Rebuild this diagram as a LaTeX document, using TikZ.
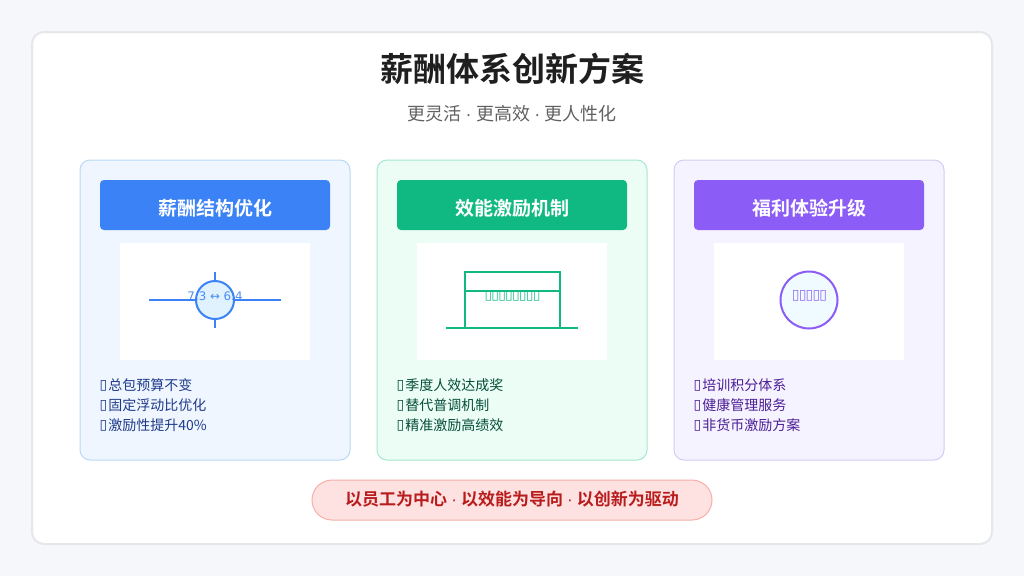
\documentclass[tikz,border=0pt]{standalone}
\usepackage{fontspec}
\setmainfont{DejaVu Sans}
\newfontfamily\cjk{Noto Sans CJK SC}
\newfontfamily\cjkb{Noto Sans CJK SC Bold}
\newfontfamily\djv{DejaVu Sans}
\newfontfamily\lib{Liberation Sans}
\definecolor{pagebg}{HTML}{F5F7FB}
\definecolor{framec}{HTML}{E5E7EB}
\definecolor{blueA}{HTML}{3B82F6}
\definecolor{blueB}{HTML}{EFF6FF}
\definecolor{blueC}{HTML}{B9D9F5}
\definecolor{blueT}{HTML}{1E3A8A}
\definecolor{blueF}{HTML}{E0F2FE}
\definecolor{greenA}{HTML}{10B981}
\definecolor{greenB}{HTML}{ECFDF5}
\definecolor{greenC}{HTML}{A5E8D0}
\definecolor{greenT}{HTML}{064E3B}
\definecolor{purA}{HTML}{8B5CF6}
\definecolor{purB}{HTML}{F5F3FF}
\definecolor{purC}{HTML}{D2CDF2}
\definecolor{purT}{HTML}{4C1D95}
\definecolor{purF}{HTML}{EFFBFF}
\definecolor{redF}{HTML}{FEE2E2}
\definecolor{redC}{HTML}{F5AFA8}
\definecolor{redT}{HTML}{B91C1C}
\newcommand{\tofu}{\raisebox{1pt}{\djv\char"25AF}}
\newcommand{\tofup}{\makebox[6.9pt]{\fontsize{14}{14}\selectfont\djv\char"25AF}}
\newcommand{\middot}{\hspace{.24em}{\lib ·}\hspace{.24em}}
\tikzset{
  x=1pt,y=-1pt,
  cardbox/.style={rounded corners=10pt,line width=1pt},
  headbox/.style={rounded corners=4pt},
  headtxt/.style={font=\cjkb\fontsize{19}{19}\selectfont,text=white,inner sep=0pt},
  listtxt/.style={font=\cjk\fontsize{14}{20}\selectfont,anchor=west,inner sep=0pt},
  pic line/.style={line width=2pt},
  pic txt/.style={font=\fontsize{11.8}{12}\selectfont,inner sep=0pt,opacity=.9},
}
\begin{document}
\begin{tikzpicture}
\useasboundingbox (0,0) rectangle (1024,576);
\fill[pagebg] (0,0) rectangle (1024,576);
\draw[framec,fill=white,line width=2pt,rounded corners=12pt] (32,32) rectangle (992,544);
\node[font=\cjkb\fontsize{33}{33}\selectfont,text=black!88,inner sep=0pt] (title) at (512,69) {薪酬体系创新方案};
\node[font=\cjk\fontsize{18}{18}\selectfont,text=black!62,inner sep=0pt] (sub) at (512,114) {更灵活\middot 更高效\middot 更人性化};
% card 1
\draw[cardbox,draw=blueC,fill=blueB] (80,160) rectangle (350,460);
\fill[headbox,blueA] (100,180) rectangle (330,230);
\node[headtxt] (h1) at (215,208) {薪酬结构优化};
\fill[white] (120,243) rectangle (310,360);
\draw[pic line,blueA] (149,300) -- (281,300);
\draw[pic line,blueA] (215,272) -- (215,328);
\draw[pic line,blueA,fill=blueF] (215,300) circle (19);
\node[pic txt,text=blueA] (t1) at (215,296) {7:3 ↔ 6:4};
\node[listtxt,text=blueT] (l11) at (99.5,385.5) {\tofu\hspace{1pt}总包预算不变};
\node[listtxt,text=blueT] (l12) at (99.5,405.5) {\tofu\hspace{1pt}固定浮动比优化};
\node[listtxt,text=blueT] (l13) at (99.5,425.5) {\tofu\hspace{1pt}激励性提升40\%};
% card 2
\draw[cardbox,draw=greenC,fill=greenB] (377,160) rectangle (647,460);
\fill[headbox,greenA] (397,180) rectangle (627,230);
\node[headtxt] (h2) at (512.5,208) {效能激励机制};
\fill[white] (417,243) rectangle (607,360);
\draw[pic line,greenA] (446,328) -- (578,328);
\draw[pic line,greenA] (464.5,328) rectangle (559.5,272);
\draw[pic line,greenA] (464.5,290.5) -- (559.5,290.5);
\node[pic txt,text=greenA] (t2) at (512.5,296) {\tofup\tofup\tofup\tofup\tofup\tofup\tofup\tofup};
\node[listtxt,text=greenT] (l21) at (396.5,385.5) {\tofu\hspace{1pt}季度人效达成奖};
\node[listtxt,text=greenT] (l22) at (396.5,405.5) {\tofu\hspace{1pt}替代普调机制};
\node[listtxt,text=greenT] (l23) at (396.5,425.5) {\tofu\hspace{1pt}精准激励高绩效};
% card 3
\draw[cardbox,draw=purC,fill=purB] (674,160) rectangle (944,460);
\fill[headbox,purA] (694,180) rectangle (924,230);
\node[headtxt] (h3) at (809,208) {福利体验升级};
\fill[white] (714,243) rectangle (904,360);
\draw[pic line,purA,fill=purF] (809,300) circle (28.5);
\node[pic txt,text=purA] (t3) at (809.5,296) {\tofup\tofup\tofup\tofup\tofup};
\node[listtxt,text=purT] (l31) at (693.5,385.5) {\tofu\hspace{1pt}培训积分体系};
\node[listtxt,text=purT] (l32) at (693.5,405.5) {\tofu\hspace{1pt}健康管理服务};
\node[listtxt,text=purT] (l33) at (693.5,425.5) {\tofu\hspace{1pt}非货币激励方案};
% banner
\draw[redC,fill=redF,line width=1pt,rounded corners=20pt] (312,480) rectangle (712,520);
\node[font=\cjkb\fontsize{17}{17}\selectfont,text=redT,inner sep=0pt] (b) at (512,499.5) {以员工为中心\middot 以效能为导向\middot 以创新为驱动};
\end{tikzpicture}
\end{document}
